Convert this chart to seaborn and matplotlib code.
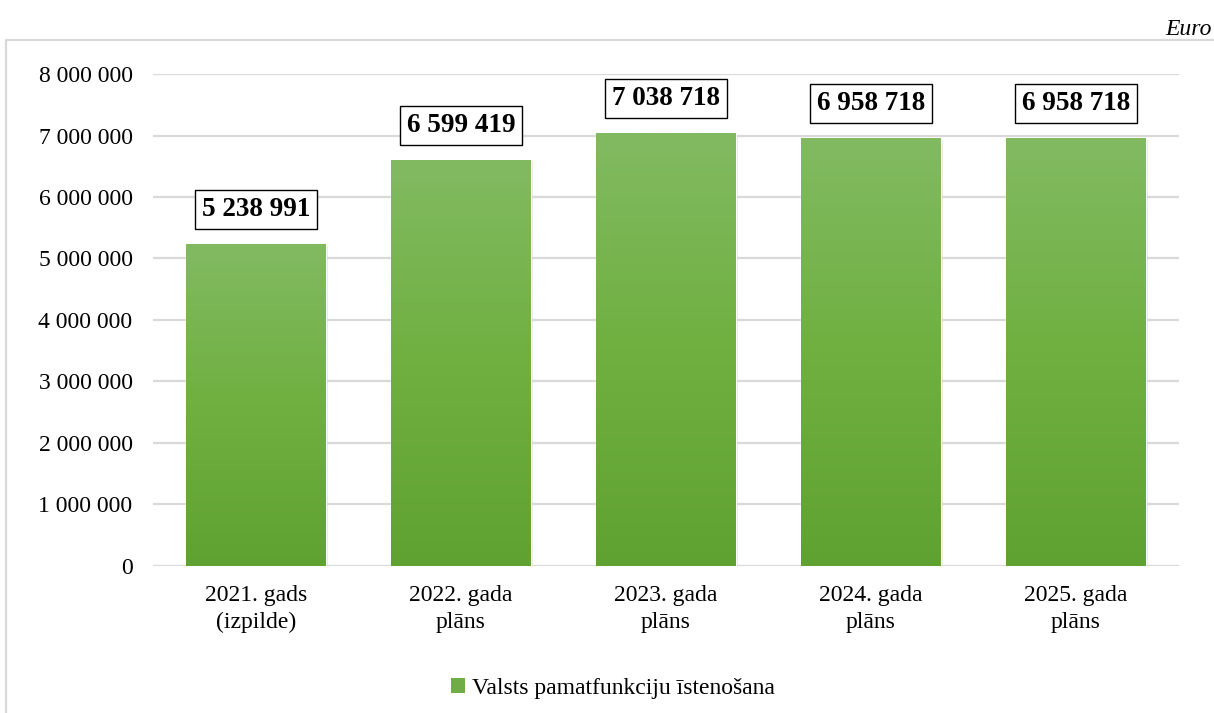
import matplotlib
matplotlib.use("Agg")
import matplotlib.pyplot as plt
import matplotlib.patheffects as pe
from matplotlib.lines import Line2D
from matplotlib.patches import Rectangle
from matplotlib.colors import LinearSegmentedColormap
import numpy as np
import pandas as pd
import seaborn as sns

categories = ["2021. gads\n(izpilde)", "2022. gada\nplāns", "2023. gada\nplāns",
              "2024. gada\nplāns", "2025. gada\nplāns"]
values = [5238991, 6599419, 7038718, 6958718, 6958718]
series_name = "Valsts pamatfunkciju īstenošana"
yticks = [0, 1000000, 2000000, 3000000, 4000000, 5000000, 6000000, 7000000, 8000000]
unit_label = "Euro"

sns.set_theme(style="white")
plt.rcParams['font.family'] = ['Liberation Serif', 'DejaVu Serif']
plt.rcParams['text.color'] = '#000000'

df = pd.DataFrame({"cat": categories, "val": values})

fig = plt.figure(figsize=(12.14, 7.13), dpi=100)
ax = fig.add_axes([0.1264, 0.2062, 0.8444, 0.69])

sns.barplot(data=df, x="cat", y="val", ax=ax, color="#70ad47", width=0.68,
            saturation=1, zorder=3)

ax.set_ylim(0, 8000000)
ax.set_xlim(-0.5, len(categories) - 0.5)
ax.set_yticks(yticks)
ax.set_yticklabels([f"{v:,}".replace(",", " ") for v in yticks], fontsize=17, color="#000000")
ax.tick_params(axis="y", length=0, pad=15)
ax.tick_params(axis="x", length=0, pad=14, labelsize=17, labelcolor="#000000")
for lbl in ax.get_xticklabels():
    lbl.set_linespacing(1.35)
ax.set_xlabel("")
ax.set_ylabel("")
ax.grid(axis="y", color="#d9d9d9", linewidth=1.6, zorder=0)
ax.grid(axis="x", visible=False)
for s in ax.spines.values():
    s.set_visible(False)

cmap = LinearSegmentedColormap.from_list("g", ["#60a232", "#6fb040", "#82ba62"])
grad = np.linspace(0, 1, 256).reshape(-1, 1)
for bar in ax.patches:
    bar.set_path_effects([pe.SimplePatchShadow(offset=(1.5, -1.5), shadow_rgbFace="#999999", alpha=0.25),
                          pe.Normal()])
    x0, w, h = bar.get_x(), bar.get_width(), bar.get_height()
    im = ax.imshow(grad, extent=[x0, x0 + w, 0, h], origin="lower", cmap=cmap,
                   aspect="auto", zorder=4)
    im.set_clip_path(bar)
    ax.annotate(f"{h:,.0f}".replace(",", " "), xy=(bar.get_x() + w / 2, h),
                xytext=(0, 25), textcoords="offset points", ha="center", va="center",
                fontsize=19.5, fontweight="bold", color="#000000", zorder=6,
                bbox=dict(boxstyle="square,pad=0.26", fc="white", ec="#000000", lw=1.0))
ax.set_xlim(-0.5, len(categories) - 0.5)
ax.set_ylim(0, 8000000)

handle = Rectangle((0, 0), 1, 1, fc="#70ad47", ec="none")
fig.legend([handle], [series_name], loc="center", bbox_to_anchor=(0.505, 0.035),
           frameon=False, fontsize=17, handlelength=0.6, handleheight=0.6,
           handletextpad=0.3, labelcolor="#000000")

fig.text(0.9985, 0.958, unit_label, ha="right", va="center", fontsize=17,
         style="italic", color="#000000")

fig.add_artist(Line2D([6 / 1214, 1.0], [1 - 40 / 713, 1 - 40 / 713],
                      transform=fig.transFigure, color="#d9d9d9", lw=1.6))
fig.add_artist(Line2D([6 / 1214, 6 / 1214], [0, 1 - 40 / 713],
                      transform=fig.transFigure, color="#d9d9d9", lw=1.6))

fig.savefig("out.png", dpi=100, facecolor="white")
